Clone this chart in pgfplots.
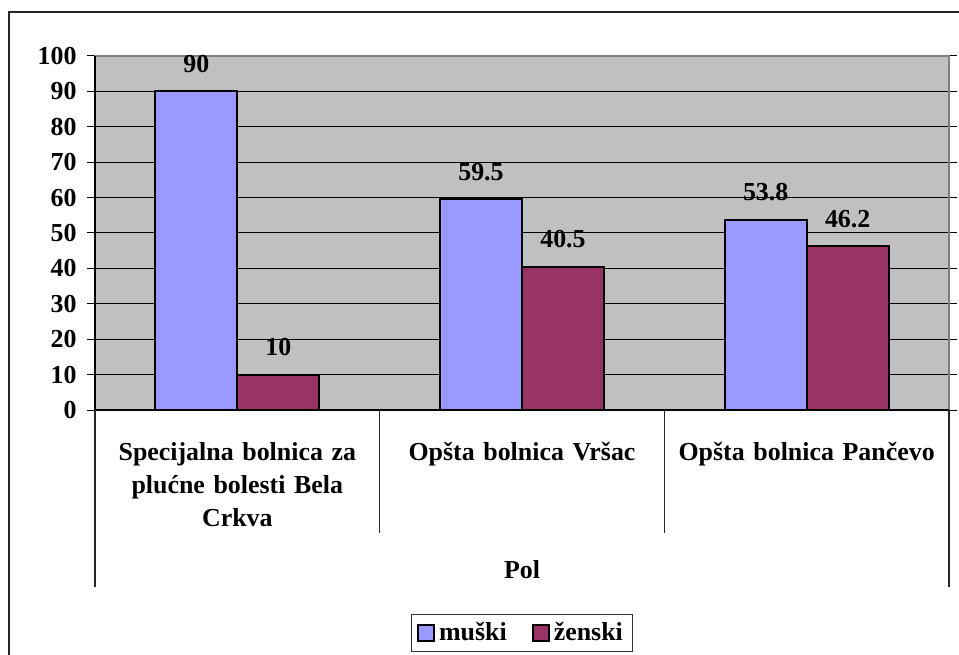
\documentclass[border=0pt]{standalone}
\usepackage{fontspec}
\setmainfont{Liberation Serif}
\usepackage{pgfplots}
\pgfplotsset{compat=1.18}
\definecolor{muski}{HTML}{9999FF}
\definecolor{zenski}{HTML}{993366}
\definecolor{plotbg}{HTML}{C0C0C0}
\newcommand{\lblfont}{\fontsize{13}{16.5}\selectfont\bfseries}
\begin{document}
\begin{tikzpicture}
\useasboundingbox (0,0) rectangle (479.5bp,327.5bp);
\draw[line width=0.75bp, black!85] (4.5bp,0) -- (4.5bp,321.5bp) -- (479.5bp,321.5bp);
\begin{axis}[
    at={(47.5bp,122.5bp)}, anchor=south west,
    scale only axis, width=427bp, height=177bp,
    ybar=0pt, bar width=41bp,
    xmin=-0.5, xmax=2.5, ymin=0, ymax=100,
    xtick={0,1,2},
    xticklabels={{Specijalna bolnica za\\plućne bolesti Bela\\Crkva}, Opšta bolnica Vršac, Opšta bolnica Pančevo},
    ytick={0,10,...,100},
    /pgf/number format/assume math mode=true,
    xtick style={draw=none},
    ytick style={black, line width=0.5bp},
    tick align=outside, major tick length=4bp,
    ymajorgrids, grid style={black, line width=0.5bp},
    axis background/.style={fill=plotbg},
    axis line style={draw=black!50, line width=1bp},
    tick label style={font=\lblfont},
    yticklabel style={inner sep=0pt, xshift=-5bp},
    xticklabel style={text width=140bp, align=center, inner sep=0pt, yshift=-12bp},
    xlabel={Pol},
    xlabel style={font=\lblfont, at={(axis description cs:0.5,0)}, anchor=base, yshift=-84bp},
    nodes near coords,
    nodes near coords style={font=\lblfont, anchor=south, inner sep=0pt, yshift=9bp},
    legend style={at={(0.5,-0.63)}, anchor=center, draw=black!80, line width=0.5bp,
        font=\lblfont, legend columns=2, inner xsep=3bp, inner ysep=2bp,
        /tikz/every even column/.append style={column sep=10.5bp}},
    legend image code/.code={\draw[#1, line width=1bp] (0bp,-4bp) rectangle (8bp,4bp);},
    clip=false,
]
\addplot[fill=muski, draw=black, line width=1bp] coordinates {(0,90) (1,59.5) (2,53.8)};
\addplot[fill=zenski, draw=black, line width=1bp] coordinates {(0,10) (1,40.5) (2,46.2)};
\legend{muški, ženski}
\draw[black, line width=0.75bp] (axis cs:-0.5,100) -- (axis cs:-0.5,0) -- (axis cs:2.5,0);
\draw[black!85, line width=0.75bp] (axis cs:-0.5,0) -- ++(0pt,-88.5bp);
\draw[black!85, line width=0.75bp] (axis cs:0.5,0) -- ++(0pt,-61.5bp);
\draw[black!85, line width=0.75bp] (axis cs:1.5,0) -- ++(0pt,-61.5bp);
\draw[black!85, line width=0.75bp] (axis cs:2.5,0) -- ++(0pt,-88.5bp);
\end{axis}
\end{tikzpicture}
\end{document}
